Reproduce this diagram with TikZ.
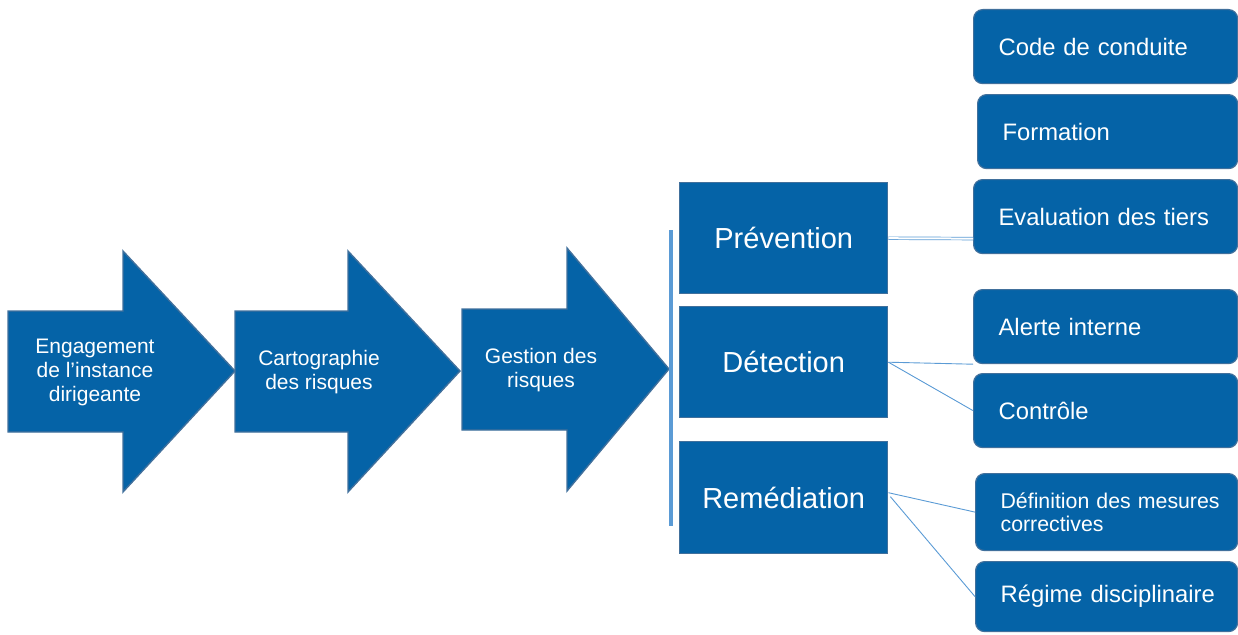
\documentclass[tikz,border=0pt]{standalone}
\usepackage{fontspec}
\setmainfont{Liberation Sans}
\usetikzlibrary{calc}
\definecolor{boxfill}{HTML}{0563A7}
\definecolor{boxline}{HTML}{41709C}
\definecolor{linkblue}{HTML}{5B9BD5}
\begin{document}
\begin{tikzpicture}[x=1pt,y=-1pt,
  stage/.style={fill=boxfill,draw=boxline,line width=1.4pt},
  stagetext/.style={text=white,align=center,font=\fontsize{21}{24}\selectfont},
  pillar/.style={fill=boxfill,draw=boxline,line width=1.4pt,text=white,
    font=\fontsize{29}{34}\selectfont,anchor=north west,minimum width=208pt,minimum height=111pt},
  item/.style={fill=boxfill,draw=boxline,line width=1.2pt,rounded corners=9pt,text=white,
    anchor=north west,align=left,inner xsep=25pt,minimum height=74pt,
    font=\fontsize{23.8}{27}\selectfont},
  link/.style={draw=linkblue,line width=0.9pt}]
\useasboundingbox (0,0) rectangle (1238,634);

% process arrows
\path[stage] (8,311) -- (123,311) -- (123,251) -- (235,371) -- (123,492) -- (123,432) -- (8,432) -- cycle;
\path[stage] (235,311) -- (348,311) -- (348,251) -- (460,371) -- (348,492) -- (348,432) -- (235,432) -- cycle;
\path[stage] (462,309) -- (567,309) -- (567,248) -- (669,369) -- (567,491) -- (567,430) -- (462,430) -- cycle;
\node[stagetext] (a1) at (95,372) {Engagement\\de l’instance\\dirigeante};
\node[stagetext] (a2) at (319,372) {Cartographie\\des risques};
\node[stagetext] (a3) at (541,370) {Gestion des\\risques};

% bracket
\coordinate (bt) at (671,230);
\coordinate (bb) at (671,526);
\draw[draw=linkblue,line width=4.5pt] (bt) -- (bb);

% three pillars
\node[pillar] (prev) at (679,182) {Prévention};
\node[pillar] (det) at (679,306) {Détection};
\node[pillar,minimum height=112pt] (rem) at (679,441) {Remédiation};

% measures
\node[item,minimum width=264pt,text width=214pt] (code) at (973,9) {\mbox{Code de conduite}};
\node[item,minimum width=260pt,text width=210pt] (form) at (977,94) {Formation};
\node[item,minimum width=264pt,text width=214pt] (eval) at (973,179) {\mbox{Evaluation des tiers}};
\node[item,minimum width=264pt,text width=214pt] (alerte) at (973,289) {\mbox{Alerte interne}};
\node[item,minimum width=264pt,text width=214pt] (ctrl) at (973,373) {Contrôle};
\node[item,minimum width=262pt,minimum height=77pt,text width=212pt,font=\fontsize{21.3}{23}\selectfont] (def) at (975,473) {\mbox{Définition des mesures}\\correctives};
\node[item,minimum width=262pt,minimum height=70pt,text width=212pt] (reg) at (975,561) {\mbox{Régime disciplinaire}};

% links
\draw[link,double=white,double distance=2pt,line width=0.7pt] (prev.east) -- ($(eval.west)+(0,22)$);
\draw[link] (det.east) -- (alerte.south west);
\draw[link] (det.east) -- (ctrl.west);
\draw[link] ($(rem.east)+(0,-5)$) -- (def.west);
\draw[link] ($(rem.east)+(2,-1)$) -- (reg.west);
\end{tikzpicture}
\end{document}
